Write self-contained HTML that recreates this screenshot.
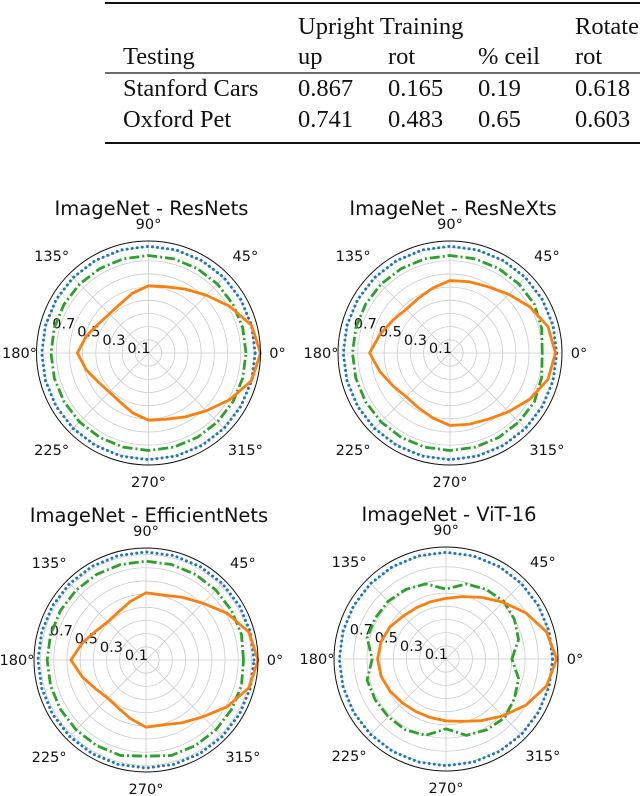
<!DOCTYPE html>
<html><head><meta charset="utf-8">
<style>
html,body{margin:0;padding:0;background:#fff;width:640px;height:796px;overflow:hidden}
svg{position:absolute;left:0;top:0}
.tb{font-family:"Liberation Serif",serif;font-size:24.5px;fill:#111}
.tk{font-family:"DejaVu Sans",sans-serif;font-size:14.5px;fill:#111}
.tt{font-family:"DejaVu Sans",sans-serif;font-size:19.5px;fill:#111}
</style></head><body>
<svg id="s" width="640" height="796">
<g>
<line x1="105" y1="3" x2="640" y2="3" stroke="#111" stroke-width="2"/>
<line x1="105" y1="73" x2="640" y2="73" stroke="#111" stroke-width="1.2"/>
<line x1="105" y1="143" x2="640" y2="143" stroke="#111" stroke-width="2"/>
<text class="tb" x="298" y="34">Upright Training</text>
<text class="tb" x="575" y="34">Rotate</text>
<text class="tb" x="123" y="64">Testing</text>
<text class="tb" x="298" y="64">up</text>
<text class="tb" x="388" y="64">rot</text>
<text class="tb" x="478" y="64">% ceil</text>
<text class="tb" x="575" y="64">rot</text>
<text class="tb" x="123" y="96">Stanford Cars</text>
<text class="tb" x="298" y="96">0.867</text>
<text class="tb" x="388" y="96">0.165</text>
<text class="tb" x="478" y="96">0.19</text>
<text class="tb" x="575" y="96">0.618</text>
<text class="tb" x="123" y="127">Oxford Pet</text>
<text class="tb" x="298" y="127">0.741</text>
<text class="tb" x="388" y="127">0.483</text>
<text class="tb" x="478" y="127">0.65</text>
<text class="tb" x="575" y="127">0.603</text>
</g>
</svg>
<script>
const angles=[0,15,30,45,60,75,90,105,120,135,150,165,180,195,210,225,240,255,270,285,300,315,330,345];
const titles=["ImageNet - ResNets","ImageNet - ResNeXts","ImageNet - EfficientNets","ImageNet - ViT-16"];
const resnetsOrange=[0.85,0.81,0.71,0.62,0.56,0.52,0.51,0.47,0.43,0.42,0.44,0.49,0.54,0.49,0.44,0.42,0.43,0.47,0.51,0.52,0.56,0.62,0.71,0.81];
const resnetsGreen=[0.74,0.74,0.74,0.74,0.74,0.74,0.74,0.74,0.74,0.74,0.74,0.74,0.74,0.74,0.74,0.74,0.74,0.74,0.74,0.74,0.74,0.74,0.74,0.74];
const resnetsBlue=[0.81,0.81,0.81,0.81,0.81,0.81,0.81,0.81,0.81,0.81,0.81,0.81,0.81,0.81,0.81,0.81,0.81,0.81,0.81,0.81,0.81,0.81,0.81,0.81];
const resnextsOrange=[0.80,0.77,0.70,0.63,0.58,0.56,0.55,0.51,0.48,0.47,0.50,0.55,0.61,0.55,0.50,0.47,0.48,0.51,0.55,0.56,0.58,0.63,0.70,0.77];
const resnextsGreen=[0.70,0.72,0.74,0.74,0.74,0.74,0.74,0.74,0.74,0.74,0.74,0.74,0.74,0.74,0.74,0.74,0.74,0.74,0.74,0.74,0.74,0.74,0.74,0.72];
const resnextsBlue=[0.81,0.81,0.81,0.81,0.81,0.81,0.81,0.81,0.81,0.81,0.81,0.81,0.81,0.81,0.81,0.81,0.81,0.81,0.81,0.81,0.81,0.81,0.81,0.81];
const effOrange=[0.85,0.81,0.71,0.61,0.55,0.51,0.51,0.46,0.42,0.41,0.44,0.50,0.57,0.50,0.44,0.41,0.42,0.46,0.51,0.51,0.55,0.61,0.71,0.81];
const effGreen=[0.74,0.75,0.75,0.75,0.75,0.75,0.75,0.75,0.75,0.75,0.75,0.75,0.75,0.75,0.75,0.75,0.75,0.75,0.73,0.75,0.75,0.75,0.75,0.75];
const effBlue=[0.82,0.82,0.82,0.82,0.82,0.82,0.82,0.82,0.82,0.82,0.82,0.82,0.82,0.82,0.82,0.82,0.82,0.82,0.82,0.82,0.82,0.82,0.82,0.82];
const vitOrange=[0.84,0.79,0.70,0.61,0.54,0.49,0.46,0.45,0.45,0.46,0.49,0.51,0.52,0.51,0.49,0.47,0.46,0.46,0.47,0.49,0.54,0.61,0.70,0.79];
const vitGreen=[0.50,0.57,0.60,0.62,0.61,0.59,0.53,0.59,0.61,0.62,0.62,0.62,0.56,0.62,0.62,0.62,0.62,0.60,0.53,0.60,0.62,0.63,0.60,0.57];
const vitBlue=[0.81,0.81,0.81,0.81,0.81,0.81,0.81,0.81,0.81,0.81,0.81,0.81,0.81,0.81,0.81,0.81,0.81,0.81,0.81,0.81,0.81,0.81,0.81,0.81];
const rTicks=[0.1,0.2,0.3,0.4,0.5,0.6,0.7,0.8];
const rLabels=["0.1","0.3","0.5","0.7"];
const thetaLabels=["0°","45°","90°","135°","180°","225°","270°","315°"];
const RMAX=0.85;
const panels=[
 {cx:148.5,cy:353,o:resnetsOrange,g:resnetsGreen,b:resnetsBlue},
 {cx:450,cy:353,o:resnextsOrange,g:resnextsGreen,b:resnextsBlue},
 {cx:146,cy:660,o:effOrange,g:effGreen,b:effBlue},
 {cx:446,cy:659,o:vitOrange,g:vitGreen,b:vitBlue}];
const R=112;
const NS="http://www.w3.org/2000/svg";
const svg=document.getElementById('s');
function mk(t,a,p){const e=document.createElementNS(NS,t);for(const k in a)e.setAttribute(k,a[k]);p.appendChild(e);return e;}
panels.forEach((P,i)=>{
 const rs=v=>v/RMAX*R;
 const px=(deg,v)=>P.cx+rs(v)*Math.cos(deg*Math.PI/180);
 const py=(deg,v)=>P.cy-rs(v)*Math.sin(deg*Math.PI/180);
 const g=mk('g',{},svg);
 
 
 const t=mk('text',{x:P.cx+3,y:P.cy-138,'text-anchor':'middle',class:'tt'},g);t.textContent=titles[i];
 
 
 rTicks.forEach(v=>{const c=mk('circle',{cx:P.cx,cy:P.cy,r:rs(v),fill:'none',stroke:'#ccc','stroke-width':0.8},g);
  
  });
 for(let a=0;a<360;a+=45){const l=mk('line',{x1:P.cx,y1:P.cy,x2:px(a,RMAX),y2:py(a,RMAX),stroke:'#ccc','stroke-width':0.8},g);
  
  }
 rLabels.forEach(s=>{const v=parseFloat(s);const tx=mk('text',{x:px(162,v)+3,y:py(162,v)+4,'text-anchor':'middle',class:'tk'},g);tx.textContent=s;
  
  });
 thetaLabels.forEach((s,k)=>{const a=k*45;const rr=(a%90===0)?R+17:R+25;
  const tx=mk('text',{x:P.cx+rr*Math.cos(a*Math.PI/180),y:P.cy-rr*Math.sin(a*Math.PI/180)+5,'text-anchor':'middle',class:'tk'},g);tx.textContent=s;
  
  });
 const path=(arr)=>angles.map((a,j)=>(j?'L':'M')+px(a,arr[j]).toFixed(2)+','+py(a,arr[j]).toFixed(2)).join('')+'Z';
 const pb=mk('path',{d:path(P.b),fill:'none',stroke:'#1f77b4','stroke-width':3,'stroke-dasharray':'0.1 5','stroke-linecap':'round'},g);
 
 
 const pg=mk('path',{d:path(P.g),fill:'none',stroke:'#2ca02c','stroke-width':2.8,'stroke-dasharray':'10 3 2 3'},g);
 
 
 const po=mk('path',{d:path(P.o),fill:'none',stroke:'#ff7f0e','stroke-width':2.8,'stroke-linejoin':'round'},g);
 
 
 const oc=mk('circle',{cx:P.cx,cy:P.cy,r:R,fill:'none',stroke:'#111','stroke-width':1},g);
 
 
});
</script>
</body></html>
